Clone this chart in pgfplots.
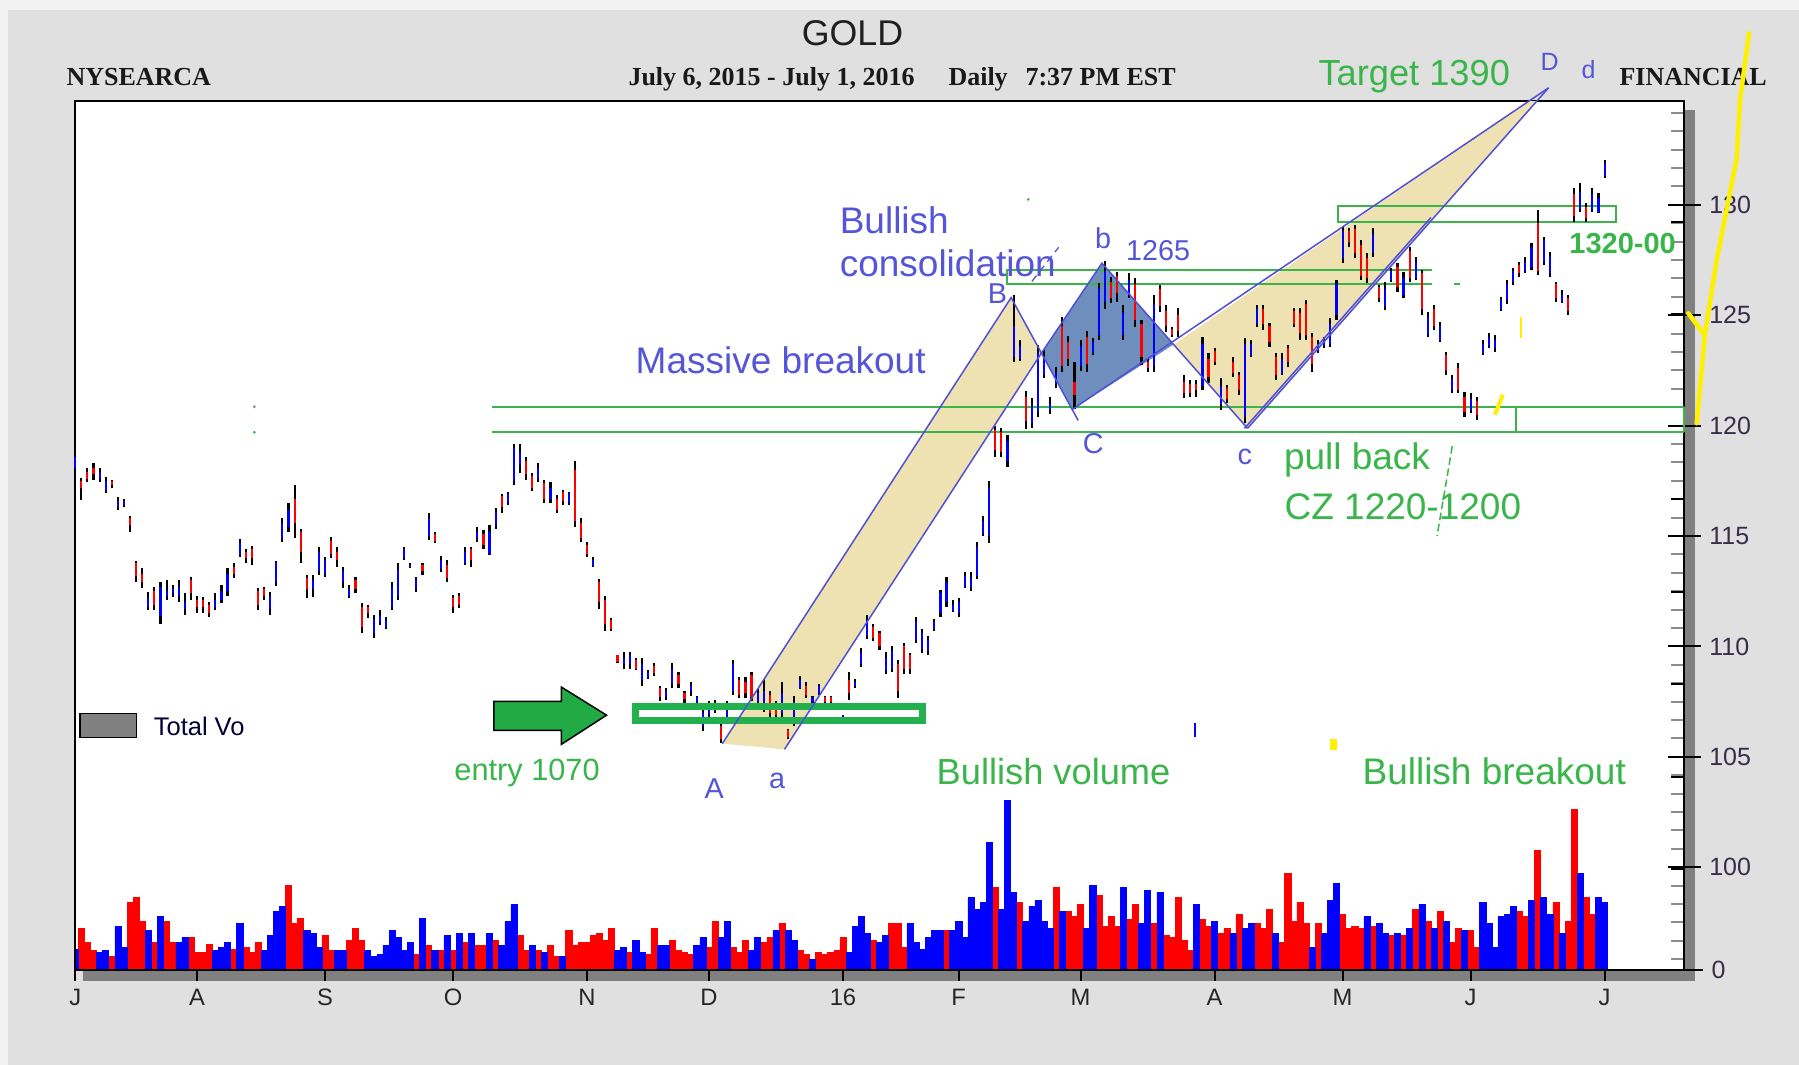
\documentclass[border=0pt]{standalone}
\usepackage{pgfplots}
\pgfplotsset{compat=1.18}
\usepackage{pgfplotstable}
\usepackage{fontspec}
\setmainfont{Liberation Sans}
\newfontfamily\tnr{Liberation Serif}
\newcommand\fs[1]{\fontsize{#1}{#1}\selectfont}
\definecolor{bggray}{RGB}{224,224,224}
\definecolor{bglight}{RGB}{242,242,242}
\definecolor{shadowgray}{RGB}{128,128,128}
\definecolor{tanf}{RGB}{239,226,178}
\definecolor{diam}{RGB}{110,142,190}
\definecolor{pline}{RGB}{80,80,215}
\definecolor{plab}{RGB}{85,85,215}
\definecolor{gtext}{RGB}{57,181,74}
\definecolor{gline}{RGB}{60,180,75}
\definecolor{gbox}{RGB}{34,177,76}
\definecolor{garrow}{RGB}{34,170,68}
\definecolor{ylw}{RGB}{255,240,0}
\definecolor{labtext}{RGB}{55,45,75}
\definecolor{vred}{RGB}{255,0,0}
\definecolor{vblue}{RGB}{0,0,255}

\pgfplotstableread{
d l h o c
1 116.63 117.62 117.5 117.2
2 117.46 118.07 117.9 117.6
3 117.54 118.30 118.1 117.8
6 117.16 117.54 117.5 117.3
9 115.2 115.91 115.8 115.5
10 112.94 113.89 113.8 113.2
11 112.63 113.57 113.3 112.9
13 111.65 112.71 112.5 111.9
19 112.11 113.16 113.0 112.4
20 111.53 112.29 112.1 111.8
21 111.53 112.26 112.1 111.8
22 111.35 112.03 111.9 111.5
26 113.09 113.77 113.6 113.3
28 113.77 114.40 114.3 114.0
29 113.69 114.55 114.4 114.0
30 111.65 112.63 112.5 111.9
31 112.11 112.71 112.6 112.3
36 114.9 117.31 116.7 115.6
37 113.8 115.31 115.2 114.3
38 112.18 113.24 113.1 112.6
42 113.99 114.97 114.8 114.2
43 113.62 114.52 114.3 113.9
46 112.41 113.16 113.0 112.6
47 110.6 111.95 111.8 110.9
48 111.28 111.88 111.8 111.5
57 113.24 113.80 113.7 113.4
59 114.67 115.2 115.1 114.8
61 112.94 113.92 113.7 113.1
62 111.53 112.33 112.2 111.8
63 111.73 112.41 112.3 111.9
65 113.62 114.52 114.4 113.9
67 114.4 115.28 115.1 114.6
70 116.03 116.91 116.8 116.3
74 117.54 118.6 118.4 117.8
75 117.06 117.84 117.7 117.2
77 116.48 117.54 117.4 116.7
79 116.03 116.86 116.7 116.2
80 116.41 117.09 117.0 116.6
82 115.43 118.42 118.0 115.7
83 114.75 115.80 115.6 114.9
84 114.07 114.75 114.6 114.2
86 111.72 113.05 112.9 112.0
87 110.71 112.27 112.1 111.0
88 110.71 111.29 111.2 110.8
89 109.23 109.62 109.6 109.3
92 108.92 109.46 109.4 109.0
95 108.68 109.23 109.1 108.8
96 107.51 108.21 108.1 107.7
99 108.14 108.84 108.7 108.3
100 107.43 107.98 107.9 107.6
106 105.64 106.5 106.4 105.8
109 107.67 108.6 108.5 107.8
110 107.67 108.6 108.4 107.9
111 107.51 108.84 108.7 107.7
114 106.81 107.98 107.8 107.0
115 106.73 107.51 107.4 106.9
117 105.8 106.26 106.2 105.9
120 107.67 108.37 108.2 107.8
123 107.43 107.75 107.7 107.5
124 107.43 107.75 107.7 107.5
127 107.59 108.84 108.5 107.9
131 110.24 111.02 110.9 110.4
132 109.85 110.71 110.6 110.0
135 107.67 109.38 109.2 108.0
136 108.76 110.16 110.0 109.0
137 108.76 109.7 109.6 109.0
151 118.58 119.99 119.8 118.9
152 118.58 119.91 119.7 118.8
156 119.83 121.55 121.3 120.2
162 122.41 124.9 124.5 122.7
163 122.72 124.04 123.8 123.0
164 120.77 122.87 122.0 121.4
166 122.41 124.28 124.0 122.8
170 125.54 126.75 126.5 125.8
171 125.62 126.98 126.8 126.0
174 124.48 126.67 126.4 124.8
175 122.75 124.79 124.6 123.1
176 122.45 123.05 122.9 122.6
178 125.16 126.37 126.2 125.4
179 124.26 125.47 125.2 124.5
180 124.03 124.49 124.4 124.1
181 124.03 125.31 125.0 124.3
182 121.24 122.30 122.0 121.5
183 121.31 122.07 121.9 121.5
184 121.31 122.07 121.9 121.6
186 121.92 123.28 123.0 122.2
187 122.75 123.50 123.4 122.9
189 121.01 121.84 121.7 121.2
190 122.22 123.13 122.9 122.4
191 121.39 122.45 122.3 121.6
195 124.34 125.47 125.3 124.6
196 123.58 124.64 124.5 123.8
197 122.07 123.28 123.1 122.3
199 122.67 123.65 123.5 122.9
200 124.49 125.31 125.2 124.6
201 123.88 125.31 125.1 124.2
202 123.88 125.69 125.5 124.1
203 122.45 124.18 124.0 122.8
209 128.11 128.94 128.8 128.3
210 127.58 129.09 128.9 127.8
211 126.60 128.41 128.2 126.8
212 126.45 127.81 127.6 126.7
214 125.62 126.37 126.3 125.8
217 126.07 127.35 127.2 126.3
219 126.52 128.11 127.9 126.7
221 125.01 127.05 126.9 125.3
223 124.33 125.47 125.3 124.5
225 122.30 123.35 123.2 122.5
227 121.46 122.82 122.6 121.6
228 120.41 121.54 121.3 120.6
230 120.26 121.31 121.1 120.5
237 126.75 127.43 127.3 126.9
240 126.82 129.77 129.2 127.0
243 125.62 126.52 126.4 125.8
245 125.01 125.92 125.8 125.2
246 129.24 130.75 130.5 129.5
248 129.24 130.07 129.9 129.4
}\redbars

\pgfplotstableread{
d l h o c
0 117.92 118.82 118.1 118.6
4 117.46 118.07 117.6 117.9
5 116.94 117.66 117.1 117.5
7 116.18 116.79 116.3 116.6
8 116.30 116.66 116.4 116.6
12 111.65 112.48 111.8 112.2
14 111.02 112.94 111.4 112.7
15 112.11 113.01 112.3 112.5
16 112.26 112.79 112.4 112.6
17 112.03 113.01 112.3 112.7
18 111.43 112.41 111.7 112.0
23 111.65 112.41 111.8 112.1
24 111.96 112.79 112.1 112.5
25 112.29 113.54 112.5 113.3
27 114.07 114.85 114.2 114.7
32 111.43 112.48 111.7 112.3
33 112.74 113.89 112.9 113.8
34 114.75 115.80 114.9 115.6
35 115.2 116.48 115.4 116.2
39 112.26 113.24 112.6 113.0
40 113.24 114.52 113.4 114.3
41 113.16 114.07 113.3 113.9
44 112.63 113.62 112.9 113.4
45 112.18 112.79 112.3 112.6
49 110.37 111.43 110.6 111.2
50 110.97 111.65 111.1 111.4
51 110.78 111.35 110.9 111.2
52 111.65 112.94 111.8 112.7
53 112.11 113.77 112.3 113.5
54 113.92 114.52 114.0 114.4
55 113.54 113.77 113.6 113.7
56 112.48 113.16 112.6 113.0
58 114.82 116.03 115.0 115.8
60 113.39 114.1 113.5 113.9
64 113.69 114.52 113.8 114.3
66 114.75 115.4 114.9 115.2
68 114.14 115.5 114.2 115.2
69 115.31 116.26 115.5 116.1
71 116.41 117.01 116.5 116.9
72 117.31 119.17 117.5 119.0
73 117.84 119.17 118.2 118.8
76 117.46 118.3 117.6 118.1
78 116.48 117.46 116.7 117.2
81 116.41 117.01 116.5 116.9
85 113.62 114.07 113.7 113.9
90 109.0 109.77 109.2 109.5
91 109.0 109.77 109.2 109.6
93 108.21 109.46 108.5 109.2
94 108.53 108.92 108.6 108.8
97 107.59 108.14 107.7 108.0
98 108.14 109.26 108.3 109.0
101 107.75 108.37 108.0 108.2
102 107.43 107.75 107.5 107.7
103 106.19 107.43 106.4 107.0
104 106.81 107.51 106.9 107.3
105 106.97 107.59 107.1 107.4
107 106.5 107.51 106.6 107.3
108 107.82 109.38 108.0 109.2
112 107.36 108.14 107.5 107.9
113 107.04 108.53 107.3 108.0
116 106.81 108.37 107.0 107.9
118 106.42 107.75 106.6 107.5
119 108.06 108.68 108.1 108.5
121 107.43 107.75 107.5 107.7
122 107.82 108.29 107.9 108.2
126 106.81 106.89 106.82 106.88
128 108.14 108.53 108.2 108.4
129 109.07 109.93 109.2 109.7
130 110.32 111.41 110.5 111.2
133 108.76 109.77 108.9 109.5
134 108.84 110.01 109.0 109.8
138 110.16 111.33 110.3 111.1
139 109.7 110.79 109.9 110.6
140 109.62 110.47 109.8 110.3
141 110.71 111.25 110.8 111.1
142 111.33 112.58 111.5 112.4
143 111.8 113.13 112.0 112.9
144 111.57 112.11 111.6 111.9
145 111.33 112.19 111.5 112.0
146 112.63 113.36 112.7 113.2
147 112.53 113.36 112.7 113.1
148 113.05 114.72 113.2 114.5
149 115.0 115.93 115.1 115.7
150 114.69 117.49 115.0 117.2
153 118.12 119.6 118.4 119.3
154 122.87 125.91 123.1 124.5
155 122.95 123.89 123.0 123.6
157 119.91 121.24 120.1 120.9
158 120.38 123.65 120.6 123.3
159 122.17 123.42 122.3 123.1
160 120.53 121.31 120.7 121.0
161 121.7 122.64 121.9 122.4
165 122.48 123.89 122.7 123.6
167 123.19 123.97 123.3 123.8
168 123.89 126.46 124.1 126.2
169 125.29 127.47 125.6 127.0
172 123.88 125.47 124.1 125.1
173 125.77 126.90 125.9 126.6
177 122.45 125.92 122.7 125.5
185 121.62 124.03 121.8 123.7
188 120.71 122.15 121.0 121.8
192 120.11 123.96 120.4 123.7
193 123.13 123.88 123.2 123.7
194 124.49 125.47 124.6 125.3
198 122.30 123.28 122.4 123.0
204 123.28 123.88 123.4 123.7
205 123.50 124.03 123.6 123.9
206 123.58 124.86 123.7 124.6
207 124.79 126.60 125.0 126.4
208 127.35 129.01 127.6 128.8
213 127.65 128.94 127.8 128.7
215 125.24 126.52 125.4 126.2
216 126.52 127.13 126.6 127.0
218 125.77 126.97 125.9 126.7
220 126.60 127.65 126.7 127.4
222 124.03 125.16 124.1 124.9
224 123.80 124.71 123.9 124.5
226 121.46 122.30 121.6 122.1
229 120.56 121.46 120.7 121.2
231 123.20 123.88 123.3 123.7
232 123.50 124.18 123.6 124.0
233 123.35 124.11 123.5 123.9
234 125.21 125.81 125.3 125.7
235 125.51 126.60 125.7 126.4
236 126.37 127.13 126.5 127.0
238 126.90 127.65 127.0 127.4
239 127.05 128.29 127.2 128.1
241 127.28 128.56 127.4 128.4
242 126.75 127.88 126.9 127.7
244 125.54 126.14 125.6 125.9
247 129.69 130.98 129.8 130.6
249 129.69 130.75 129.8 130.5
250 129.62 130.52 129.7 130.3
251 131.20 132.03 131.3 131.9
}\bluebars

\pgfplotstableread{
d v
1 4.1
2 2.7
3 1.9
6 1.3
9 6.7
10 7.2
11 4.8
13 2.7
15 4.8
16 2.7
19 3.2
20 1.7
21 1.7
22 2.5
26 2.0
28 2.2
29 1.7
30 2.7
35 8.4
36 4.6
37 5.1
41 3.4
42 1.9
45 2.9
46 4.1
47 2.9
56 1.5
58 2.4
60 1.9
62 1.9
64 2.7
66 2.4
67 2.4
69 2.9
73 3.4
74 1.9
76 1.9
78 2.4
79 1.3
81 3.9
82 2.4
83 2.7
84 2.7
85 3.4
86 3.6
87 2.9
88 4.1
91 1.7
94 1.5
95 4.1
98 2.9
99 1.9
100 1.7
101 1.5
104 2.2
105 4.8
108 2.2
109 1.7
110 2.9
113 2.7
114 3.2
116 4.6
119 1.9
120 1.5
122 1.7
123 1.5
124 1.7
125 1.9
126 3.2
131 2.9
134 4.6
135 4.6
136 2.2
143 3.9
151 8.2
155 6.7
161 8.2
163 5.8
164 5.3
165 6.5
168 7.4
169 4.3
170 5.3
171 4.3
173 5.0
174 6.5
177 4.6
179 3.4
180 3.2
181 7.2
182 2.9
183 1.9
185 5.0
186 4.3
188 3.6
189 4.1
191 5.5
194 4.6
195 4.1
196 6.0
198 2.7
199 9.6
200 4.8
201 6.7
202 4.6
204 4.6
208 5.5
209 4.1
210 4.3
211 4.1
213 4.3
216 3.4
218 3.4
220 6.0
222 4.8
224 5.8
226 2.7
227 4.1
229 3.9
230 2.2
237 5.8
238 5.3
240 11.9
243 6.7
245 4.8
246 16.0
248 7.2
249 5.5
}\volred

\pgfplotstableread{
d v
0 2.0
4 1.7
5 1.9
7 4.3
8 2.2
12 3.9
14 5.3
17 2.7
18 3.2
23 1.9
24 2.2
25 2.7
27 4.6
31 1.9
32 3.4
33 5.8
34 6.3
38 3.9
39 3.6
40 2.2
43 1.9
44 1.9
48 1.9
49 1.3
50 1.5
51 2.4
52 3.9
53 3.2
54 1.9
55 2.7
57 5.1
59 1.9
61 3.4
63 3.6
65 3.6
68 3.6
70 2.4
71 4.8
72 6.5
75 2.4
77 1.7
80 1.3
89 1.9
90 2.2
92 2.9
93 1.7
96 2.4
97 2.4
102 2.4
103 3.2
106 3.2
107 4.8
111 1.9
112 3.2
115 3.9
117 3.9
118 2.9
121 1.0
127 1.7
128 4.3
129 5.3
130 3.6
132 2.7
133 3.4
137 4.6
138 2.7
139 2.0
140 3.2
141 3.9
142 3.9
144 3.9
145 4.8
146 3.2
147 7.2
148 6.0
149 6.7
150 12.7
152 6.0
153 16.9
154 7.7
156 4.8
157 6.3
158 6.9
159 4.8
160 4.1
162 5.8
166 4.1
167 8.4
172 8.2
175 4.6
176 7.9
178 7.7
184 6.5
187 4.8
190 3.6
192 4.1
193 4.6
197 3.6
203 2.2
205 3.6
206 6.9
207 8.6
212 5.3
214 4.6
215 3.6
217 3.6
219 4.1
221 6.5
223 4.1
225 4.8
228 3.9
231 6.7
232 4.6
233 2.2
234 5.3
235 5.5
236 6.3
239 6.9
241 7.2
242 5.5
244 3.6
247 9.6
250 7.2
251 6.7
}\volblue

\begin{document}
\begin{tikzpicture}
\begin{scope}[x=0.4pt,y=-0.4pt]
\path[use as bounding box] (0,0) rectangle (1799,1065);
\fill[bglight] (0,0) rectangle (1799,1065);
\fill[bggray] (8,10) rectangle (1799,1065);
\fill[shadowgray] (83,110) rectangle (1695,981);
\fill[white] (74.6,101) rectangle (1684.2,969.5);
\end{scope}

% ---------- volume axis (also carries the month ticks)
\begin{axis}[
  at={(29.84pt,-387.8pt)}, anchor=south west,
  width=643.84pt, height=347.4pt, scale only axis,
  xmin=-0.1, xmax=264.07, ymin=0, ymax=86.9,
  axis x line*=bottom, axis y line=none, ytick=\empty,
  x axis line style={line width=0.8pt},
  xtick={0,20,41,62,84,104,126,145,165,187,208,229,251},
  xticklabels={J,A,S,O,N,D,16,F,M,A,M,J,J},
  tick align=outside, major tick length=4.4pt,
  every tick/.style={black, line width=0.8pt},
  xticklabel style={font=\fs{9.5}, text=black!85},
]
\addplot[ybar, bar width=1, bar shift=0pt, fill=vred, draw=vred, line width=0.2pt] table[x=d, y=v] {\volred};
\addplot[ybar, bar width=1, bar shift=0pt, fill=vblue, draw=vblue, line width=0.2pt] table[x=d, y=v] {\volblue};
\end{axis}

% ---------- price axis
\begin{axis}[
  at={(29.84pt,-387.8pt)}, anchor=south west,
  width=643.84pt, height=347.4pt, scale only axis,
  xmin=-0.1, xmax=264.07, ymin=95.37, ymax=134.705,
  clip=false,
  axis line style={line width=0.8pt, black},
  xtick=\empty,
  ytick={95,100,105,110,115,120,125,130,135},
  ytick pos=right, yticklabel pos=right,
  minor y tick num=5,
  tick align=center, major tick length=13pt, minor tick length=5.2pt,
  every major tick/.append style={black, line width=0.8pt},
  every minor tick/.append style={xshift=-2.6pt, black!45, line width=0.8pt},
  extra y ticks={129.24,125.05,120.86,116.67,112.48,108.29,104.1,99.91},
  extra y tick labels={},
  extra y tick style={tick align=inside, major tick length=5.2pt},
  yticklabel style={font=\fs{10}, text=labtext},
  /pgf/number format/assume math mode=true,
]
% pattern fills
\fill[tanf] (axis cs:106.2,105.6) -- (axis cs:153.6,125.8) -- (axis cs:158.6,123.3) -- (axis cs:116.4,105.34) -- cycle;
\fill[diam] (axis cs:158.6,123.3) -- (axis cs:168.5,127.36) -- (axis cs:180.3,123.68) -- (axis cs:163.6,120.73) -- cycle;
\fill[tanf] (axis cs:180.3,123.68) -- (axis cs:192.4,119.88) -- (axis cs:239.9,134.705) -- (axis cs:238.6,134.705) -- cycle;
% green zones
\draw[gline, line width=0.7pt] (axis cs:68.35,120.86) -- (axis cs:264.07,120.86);
\draw[gline, line width=0.7pt] (axis cs:68.35,119.70) -- (axis cs:264.07,119.70);
\draw[gline, line width=0.7pt] (axis cs:236.5,119.70) -- (axis cs:236.5,120.86);
\draw[gline, line width=0.7pt] (axis cs:264.0,119.70) -- (axis cs:264.0,120.86);
\draw[gline, line width=0.7pt] (axis cs:222.7,127.05) -- (axis cs:152.9,127.05) -- (axis cs:152.9,126.42) -- (axis cs:222.7,126.42);
\draw[gline, line width=0.7pt] (axis cs:207.2,129.22) rectangle (axis cs:252.9,129.96);
\draw[gline, line width=0.7pt] (axis cs:226.3,126.42) -- (axis cs:227.3,126.42);
\fill[gline] (axis cs:29.4,120.86) circle (0.6pt);
\fill[gline] (axis cs:29.4,119.70) circle (0.6pt);
\fill[gline] (axis cs:156.4,130.25) circle (0.6pt);

% price bars: high-low in black, open-close segment coloured
\addplot[draw=none, no markers, forget plot, error bars/.cd, y dir=plus, y explicit, error mark=none,
  error bar style={draw=black, line width=0.85pt}]
  table[x=d, y=l, y error plus expr=\thisrow{h}-\thisrow{l}] {\redbars};
\addplot[draw=none, no markers, forget plot, error bars/.cd, y dir=plus, y explicit, error mark=none,
  error bar style={draw=black, line width=0.85pt}]
  table[x=d, y=l, y error plus expr=\thisrow{h}-\thisrow{l}] {\bluebars};
\addplot[draw=none, no markers, forget plot, error bars/.cd, y dir=plus, y explicit, error mark=none,
  error bar style={draw=vred, line width=0.85pt}]
  table[x=d, y=c, y error plus expr=\thisrow{o}-\thisrow{c}] {\redbars};
\addplot[draw=none, no markers, forget plot, error bars/.cd, y dir=plus, y explicit, error mark=none,
  error bar style={draw=vblue, line width=0.85pt}]
  table[x=d, y=o, y error plus expr=\thisrow{c}-\thisrow{o}] {\bluebars};

% entry box and arrow
\draw[gbox, line width=2.7pt] (axis cs:91.95,106.65) rectangle (axis cs:139.05,107.27);
\filldraw[fill=garrow, draw=black, line width=0.6pt] (axis cs:68.7,107.51) -- (axis cs:79.8,107.51) -- (axis cs:79.8,108.16) -- (axis cs:87.2,106.89) -- (axis cs:79.8,105.57) -- (axis cs:79.8,106.2) -- (axis cs:68.7,106.2) -- cycle;

% pattern lines
\draw[pline, line width=0.6pt] (axis cs:106.2,105.6) -- (axis cs:153.6,125.8) -- (axis cs:164.6,120.24);
\draw[pline, line width=0.6pt] (axis cs:116.4,105.34) -- (axis cs:158.6,123.3) -- (axis cs:168.5,127.36) -- (axis cs:192.4,119.88);
\draw[pline, line width=0.6pt] (axis cs:163.6,120.73) -- (axis cs:241.8,135.3);
\draw[pline, line width=0.6pt] (axis cs:192.4,119.88) -- (axis cs:241.8,135.3);
\draw[pline, line width=0.6pt] (axis cs:191.9,119.88) -- (axis cs:222.5,129.43);
\draw[pline, line width=0.5pt, densely dashed] (axis cs:157.0,126.53) -- (axis cs:161.4,128.08);

% small marks
\draw[ylw, line width=1.6pt] (axis cs:233.0,120.5) -- (axis cs:234.3,121.4);
\draw[ylw, line width=0.9pt] (axis cs:237.3,123.96) -- (axis cs:237.3,124.94);
\fill[ylw] (axis cs:206.0,105.31) rectangle (axis cs:207.1,105.81);
\draw[vblue, line width=0.8pt] (axis cs:183.8,105.92) -- (axis cs:183.8,106.54);
\draw[gline, line width=0.6pt, dash pattern=on 3pt off 1.5pt] (axis cs:226.0,119.07) -- (axis cs:223.5,115.0);

% labels
\begin{scope}[every node/.style={anchor=base west, inner sep=0pt}]
\node[text=plab, font=\fs{14.8}] at (axis cs:125.4,128.7) {Bullish};
\node[text=plab, font=\fs{14.8}] at (axis cs:125.4,126.74) {consolidation};
\node[text=plab, font=\fs{14.8}] at (axis cs:91.9,122.35) {Massive breakout};
\node[text=plab, font=\fs{11.5}] at (axis cs:149.7,125.52) {B};
\node[text=plab, font=\fs{11.5}] at (axis cs:167.3,128.03) {b};
\node[text=plab, font=\fs{11.5}] at (axis cs:172.4,127.47) {1265};
\node[text=plab, font=\fs{11.5}] at (axis cs:165.3,118.75) {C};
\node[text=plab, font=\fs{11.5}] at (axis cs:190.7,118.22) {c};
\node[text=plab, font=\fs{11.5}] at (axis cs:103.2,103.12) {A};
\node[text=plab, font=\fs{11.5}] at (axis cs:113.8,103.58) {a};
\node[text=gtext, font=\fs{14.8}] at (axis cs:198.3,118.0) {pull back};
\node[text=gtext, font=\fs{14.8}] at (axis cs:198.4,115.73) {CZ 1220-1200};
\node[text=gtext, font=\bfseries\fs{11.6}] at (axis cs:245.15,127.78) {1320-00};
\node[text=gtext, font=\fs{12.3}] at (axis cs:62.15,103.95) {entry 1070};
\node[text=gtext, font=\fs{14.5}] at (axis cs:141.3,103.73) {Bullish volume};
\node[text=gtext, font=\fs{14.8}] at (axis cs:211.2,103.73) {Bullish breakout};
\end{scope}
\end{axis}

% ---------- texts around the chart
\begin{scope}[x=0.4pt,y=-0.4pt]
\node[anchor=base, inner sep=0pt, font=\fs{14.3}, text=black!88] at (852.5,46) {GOLD};
\begin{scope}[every node/.style={anchor=base west, inner sep=0pt, font=\tnr\bfseries\fs{10.4}, text=black!90}]
\node at (66,86) {NYSEARCA};
\node at (628,86) {July 6, 2015 - July 1, 2016};
\node at (948,86) {Daily};
\node at (1025,86) {7:37 PM EST};
\node at (1619,86) {FINANCIAL};
\end{scope}
\node[anchor=base west, inner sep=0pt, text=gtext, font=\fs{14.5}] at (1318,86) {Target 1390};
\node[anchor=base west, inner sep=0pt, text=plab, font=\fs{10}] at (1540,71) {D};
\node[anchor=base west, inner sep=0pt, text=plab, font=\fs{10}] at (1581,79) {d};
\filldraw[fill=shadowgray, draw=black, line width=0.6pt] (80,713.3) rectangle (136.7,737.3);
\node[anchor=base west, inner sep=0pt, font=\fs{10.2}, text=black!80!blue] at (153.3,735) {Total Vo};
\draw[black, line width=0.8pt] (1670,969.5) -- (1703,969.5);
\node[anchor=west, inner sep=0pt, font=\fs{10}, text=labtext] at (1711,969.5) {0};
\draw[ylw, line width=1.8pt, line join=round, line cap=round] (1749,33.3) -- (1740,100) -- (1736.7,158.3) -- (1716.7,260) -- (1705,333.3) -- (1696.7,423.3);
\draw[ylw, line width=1.8pt, line cap=round] (1688.3,313.3) -- (1703.3,333.3);
\end{scope}
\end{tikzpicture}
\end{document}
